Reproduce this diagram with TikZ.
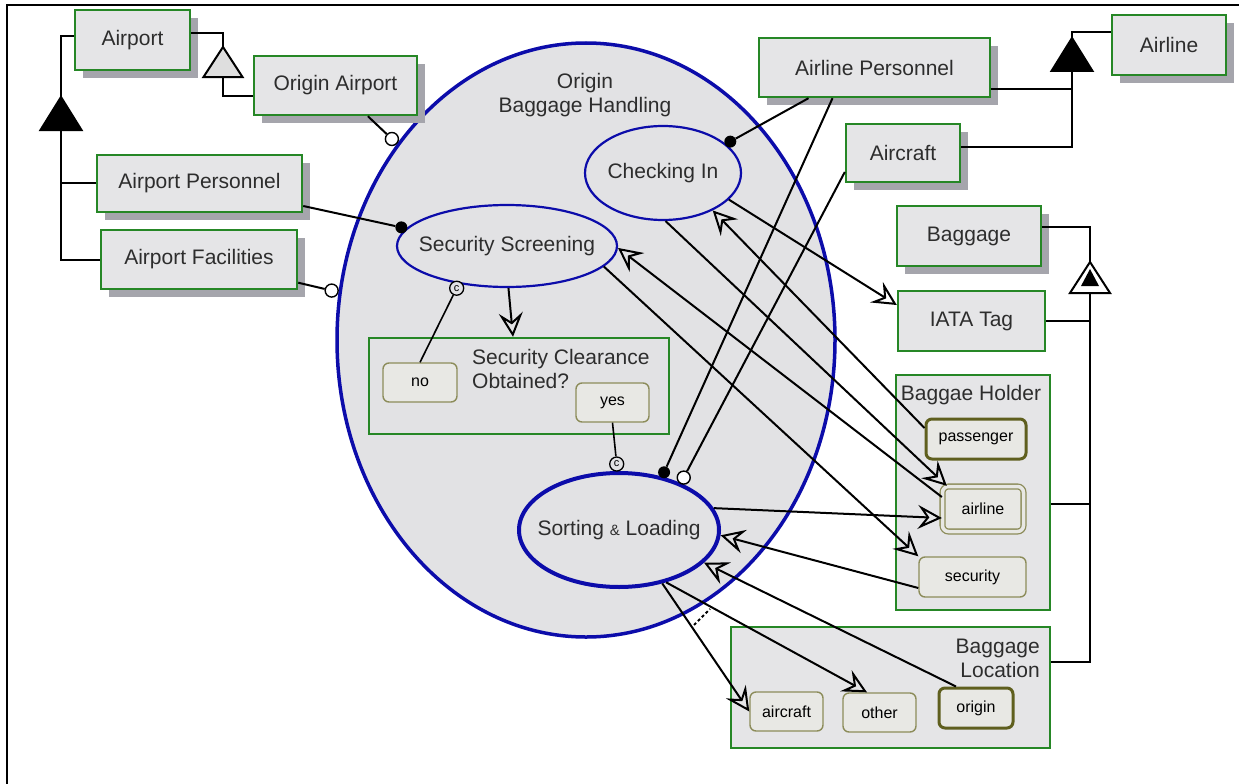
\documentclass[tikz,border=0pt]{standalone}
\usepackage{fontspec}
\setmainfont{Liberation Sans}
\usetikzlibrary{arrows.meta,shapes.geometric,shadows,calc}
\definecolor{bgreen}{RGB}{38,135,38}
\definecolor{bfill}{RGB}{229,229,231}
\definecolor{efill}{RGB}{226,226,228}
\definecolor{pblue}{RGB}{12,12,170}
\definecolor{shgray}{RGB}{165,165,172}
\definecolor{oliveA}{RGB}{140,140,90}
\definecolor{oliveB}{RGB}{95,95,30}
\definecolor{sfill}{RGB}{232,232,228}
\definecolor{txt}{RGB}{45,45,45}
\definecolor{trigray}{RGB}{222,222,222}
\newcommand\labfont{\fontsize{21}{24}\selectfont}
\newcommand\smfont{\fontsize{16}{18}\selectfont}
\begin{document}
\begin{tikzpicture}[x=1pt,y=-1pt,
  lab/.style={font=\labfont, text=txt, inner sep=0pt},
  ent/.style={draw=bgreen, line width=2.4pt, fill=bfill, text=txt, font=\labfont, inner sep=0pt},
  shad/.style={ent, drop shadow={shadow xshift=8pt, shadow yshift=-8pt, fill=shgray, opacity=1}},
  state/.style={draw=oliveA, line width=1.4pt, fill=sfill, rounded corners=6pt, font=\smfont, text=black, inner sep=0pt},
  thickstate/.style={state, draw=oliveB, line width=3pt},
  proc/.style={ellipse, draw=pblue, line width=2.2pt, fill=efill, inner sep=0pt},
  link/.style={line width=2pt, draw=black},
  arr/.style={link, -{Stealth[open, length=24pt, width=24pt, inset=9pt]}},
  agent/.style={circle, fill=black, minimum size=12pt, inner sep=0pt},
  instr/.style={circle, draw=black, fill=white, line width=1.4pt, minimum size=13pt, inner sep=0pt},
  cond/.style={circle, draw=black, fill=efill, line width=1.3pt, minimum size=14pt, inner sep=0pt, font=\fontsize{11}{11}\selectfont, text=black}
]
\useasboundingbox (0,0) rectangle (1239,784);
\draw[line width=2.5pt] (7,784) -- (7,5) -- (1239,5);

% processes
\node[proc, line width=3.5pt, minimum width=498pt, minimum height=594pt] (obh) at (586,340) {};
\node[lab, align=center] (obhtxt) at (585,95) {Origin\\Baggage Handling};
\node[proc, minimum width=156pt, minimum height=94pt, label={[lab]center:Checking In}] (ci) at (663,173) {};
\node[proc, minimum width=220pt, minimum height=82pt, label={[lab]center:Security Screening}] (ss) at (507,246) {};
\node[proc, line width=4pt, minimum width=200pt, minimum height=114pt, label={[lab]center:{Sorting {\fontsize{15}{15}\selectfont\&} Loading}}] (sl) at (619,530) {};

% security clearance object
\node[draw=bgreen, line width=2.4pt, fill=efill, minimum width=300pt, minimum height=96pt] (sc) at (519,386) {};
\node[lab, anchor=west, align=left] (sctxt) at (472,369) {Security Clearance\\Obtained?};
\node[state, minimum width=74pt, minimum height=39pt] (no) at (420,382.5) {no};
\node[state, minimum width=73pt, minimum height=39pt] (yes) at (612.5,402.5) {yes};

% objects
\node[shad, minimum width=115pt, minimum height=60pt] (airport) at (132.5,40) {Airport};
\node[shad, minimum width=163pt, minimum height=59pt] (oa) at (335.5,85.5) {Origin Airport};
\node[shad, minimum width=205pt, minimum height=57pt] (apers) at (199.5,183.5) {Airport Personnel};
\node[shad, minimum width=196pt, minimum height=59pt] (afac) at (199,259.5) {Airport Facilities};
\node[shad, minimum width=231pt, minimum height=59pt] (alp) at (874.5,67.5) {Airline Personnel};
\node[shad, minimum width=114pt, minimum height=60pt] (airline) at (1169,45) {Airline};
\node[shad, minimum width=114pt, minimum height=58pt] (acft) at (903,153) {Aircraft};
\node[shad, minimum width=144pt, minimum height=60pt] (bag) at (969,236) {Baggage};
\node[ent, minimum width=147pt, minimum height=60pt] (iata) at (971.5,321) {IATA Tag};

\node[ent, line width=2pt, minimum width=154pt, minimum height=235pt] (bh) at (973,492.5) {};
\node[lab] (bhtxt) at (971,395) {Baggae Holder};
\node[thickstate, minimum width=100pt, minimum height=40pt] (pass) at (976,439) {passenger};
\node[state, line width=1.3pt, double=sfill, double distance=3.5pt, minimum width=81pt, minimum height=45pt] (alo) at (983,509) {airline};
\node[state, minimum width=107pt, minimum height=40pt] (sec) at (972.5,577) {security};

\node[ent, line width=2pt, minimum width=319pt, minimum height=121pt] (bl) at (890.5,687.5) {};
\node[lab, anchor=east, align=right] (bltxt) at (1040,658) {Baggage\\Location};
\node[state, minimum width=73pt, minimum height=39pt] (bac) at (786.5,711.5) {aircraft};
\node[state, minimum width=73pt, minimum height=39pt] (oth) at (879.5,712.5) {other};
\node[thickstate, minimum width=74pt, minimum height=40pt] (org) at (976,708) {origin};

% structural links
\coordinate (t1) at (223,47);
\coordinate (t1b) at (223,77);
\draw[link] ([yshift=7pt]airport.east) -| (t1);
\draw[link, fill=trigray, line join=miter] (t1) -- ++(-19.5,30) -- ++(39,0) -- cycle;
\draw[link] (t1b) |- ([yshift=-10.5pt]oa.west);

\coordinate (t2) at (61,97);
\coordinate (t2b) at (61,130);
\draw[link] ([yshift=4pt]airport.west) -| (t2);
\draw[link, fill=black, line join=miter] (t2) -- ++(-20.5,33) -- ++(41,0) -- cycle;
\draw[link] (t2b) |- (afac.west);
\draw[link] (t2b) |- ([yshift=1pt]apers.west);

\coordinate (t3) at (1072,38);
\coordinate (t3b) at (1072,71);
\draw[link] ([yshift=13pt]airline.west) -| (t3);
\draw[link, fill=black, line join=miter] (t3) -- ++(-20.5,33) -- ++(41,0) -- cycle;
\draw[link] (t3b) |- ([yshift=6pt]acft.east);
\draw[link] (t3b) |- ([yshift=-21.5pt]alp.east);

\coordinate (t4) at (1090,262);
\coordinate (t4b) at (1090,293);
\draw[link] ([yshift=9pt]bag.east) -| (t4);
\draw[link, fill=white, line join=miter] (t4) -- ++(-20,31) -- ++(40,0) -- cycle;
\fill (1090,269) -- ++(-9,17) -- ++(18,0) -- cycle;
\draw[link] (t4b) |- (iata.east);
\draw[link] (t4b) |- ([yshift=-11.5pt]bh.east);
\draw[link] (t4b) |- ([yshift=25.5pt]bl.east);

% procedural links
\draw[arr] (ci.-22) -- ([yshift=16pt]iata.west);
\draw[arr] (ci.-87) -- ([xshift=5pt]alo.north west);
\draw[arr] ([yshift=11pt]pass.west) -- (ci.-37.6);
\draw[arr] (ss.-12.5) -- (sec.north west);
\draw[arr] ([yshift=12pt]alo.west) -- (ss.-1);
\draw[arr] (sl.13) -- ([yshift=-9pt]alo.west);
\draw[arr] ([yshift=-11pt]sec.west) -- (sl.-3);
\draw[arr] ([xshift=-20pt]org.north) -- (sl.-21);
\draw[arr] (sl.-51) -- (bac.west);
\draw[arr] (sl.-48) -- ([xshift=-12.5pt]oth.north);
\draw[arr] (ss.-88) -- ([xshift=-6pt]sc.north);
\draw[line width=2pt, dash pattern=on 3pt off 2.5pt] (694,625) -- (710,609);

\node[instr] (c1) at ($(obh.134.7)!-7pt!(obh.center)$) {};
\draw[link] (oa) -- (c1);
\node[instr] (c2) at ($(obh.169)!-7pt!(obh.center)$) {};
\draw[link] (afac) -- (c2);
\node[agent] (d1) at ($(ss.170)!-5pt!(ss.center)$) {};
\draw[link] (apers) -- (d1);
\node[agent] (d2) at ($(ci.25)!-5pt!(ci.center)$) {};
\draw[link] ([xshift=-66pt]alp.south) -- (d2);
\node[agent] (d3) at ($(sl.52)!-5pt!(sl.center)$) {};
\draw[link] ([xshift=-42pt]alp.south) -- (d3);
\node[instr] (c3) at ($(sl.39)!-7pt!(sl.center)$) {};
\draw[link] ([yshift=-19pt]acft.west) -- (c3);

\node[cond] (k1) at ($(ss.-140)!-6pt!(ss.center)$) {c};
\draw[link, line width=1.6pt] (no.north) -- (k1);
\node[cond] (k2) at ($(sl.92)!-7pt!(sl.center)$) {c};
\draw[link, line width=1.6pt] (yes.south) -- (k2);
\end{tikzpicture}
\end{document}
